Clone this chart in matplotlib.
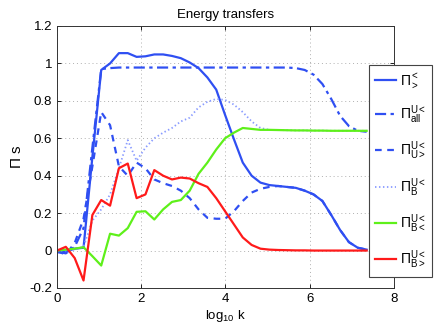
import numpy as np
import matplotlib
matplotlib.use("Agg")
import matplotlib.pyplot as plt

x = [0.21 * i for i in range(36)]

pi_gt = [-0.01, -0.005, 0.01, 0.015, 0.5, 0.965, 1.0, 1.055, 1.055, 1.035, 1.038, 1.048,
         1.048, 1.04, 1.028, 1.005, 0.975, 0.925, 0.86, 0.725, 0.595, 0.47, 0.40, 0.363,
         0.35, 0.345, 0.34, 0.335, 0.32, 0.30, 0.265, 0.19, 0.11, 0.045, 0.015, 0.005]
pi_all = [-0.005, -0.015, 0.02, 0.12, 0.55, 0.97, 0.975, 0.978, 0.978, 0.978, 0.978, 0.978,
          0.978, 0.978, 0.978, 0.978, 0.978, 0.978, 0.978, 0.978, 0.978, 0.978, 0.978, 0.978,
          0.978, 0.978, 0.978, 0.975, 0.965, 0.94, 0.89, 0.81, 0.72, 0.665, 0.64, 0.635]
pi_u = [-0.005, -0.02, 0.04, 0.17, 0.45, 0.74, 0.67, 0.45, 0.40, 0.47, 0.44, 0.38,
        0.36, 0.345, 0.32, 0.28, 0.22, 0.175, 0.17, 0.17, 0.21, 0.265, 0.31, 0.33,
        0.34, 0.345, 0.34, 0.335, 0.32, 0.30, 0.265, 0.19, 0.11, 0.045, 0.015, 0.005]
pi_b = [0.0, 0.0, 0.005, 0.02, 0.16, 0.22, 0.30, 0.44, 0.59, 0.48, 0.55, 0.60,
        0.63, 0.655, 0.69, 0.71, 0.765, 0.795, 0.81, 0.805, 0.78, 0.74, 0.69, 0.655,
        0.645, 0.644, 0.643, 0.642, 0.642, 0.641, 0.641, 0.64, 0.64, 0.64, 0.64, 0.64]
pi_blt = [0.0, 0.005, 0.01, 0.018, -0.03, -0.08, 0.09, 0.08, 0.12, 0.207, 0.21, 0.166,
          0.22, 0.26, 0.27, 0.32, 0.41, 0.47, 0.54, 0.60, 0.63, 0.655, 0.65, 0.645,
          0.645, 0.644, 0.643, 0.642, 0.642, 0.641, 0.641, 0.64, 0.64, 0.64, 0.64, 0.64]
pi_bgt = [0.0, 0.02, -0.04, -0.16, 0.19, 0.27, 0.24, 0.44, 0.465, 0.28, 0.30, 0.43,
          0.40, 0.38, 0.39, 0.385, 0.36, 0.34, 0.28, 0.21, 0.14, 0.07, 0.03, 0.01,
          0.005, 0.003, 0.002, 0.001, 0.001, 0.0, 0.0, 0.0, 0.0, 0.0, 0.0, 0.0]

labels = [r"$\Pi^{<}_{>}$", r"$\Pi^{U<}_{\rm all}$", r"$\Pi^{U<}_{U>}$",
          r"$\Pi^{U<}_{B}$", r"$\Pi^{U<}_{B<}$", r"$\Pi^{U<}_{B>}$"]

plt.rcParams['font.family'] = ['Liberation Sans', 'DejaVu Sans']
plt.rcParams['mathtext.fontset'] = 'custom'
plt.rcParams['mathtext.rm'] = 'Liberation Sans'
plt.rcParams['mathtext.it'] = 'Liberation Sans'

fig = plt.figure(figsize=(4.36, 3.27), dpi=100)
ax = fig.add_axes([0.1307, 0.1193, 0.7730, 0.8012])

blue = '#2f4ff2'
lw = 1.6
ax.plot(x, pi_gt, color=blue, lw=lw, ls='-', label=labels[0])
ax.plot(x, pi_all, color=blue, lw=lw, ls=(0, (5, 2, 1.5, 2)), label=labels[1])
ax.plot(x, pi_u, color=blue, lw=lw, ls=(0, (3, 2.5)), label=labels[2])
ax.plot(x, pi_b, color='#8a9cff', lw=1.3, ls=(0, (0.8, 1.4)), label=labels[3])
ax.plot(x, pi_blt, color='#5ef01a', lw=lw, ls='-', label=labels[4])
ax.plot(x, pi_bgt, color='#ff1a1a', lw=lw, ls='-', label=labels[5])

ax.set_xlim(0, 8)
ax.set_ylim(-0.2, 1.2)
ax.set_xticks([0, 2, 4, 6, 8])
ax.set_yticks([-0.2, 0, 0.2, 0.4, 0.6, 0.8, 1.0, 1.2])
ax.set_yticklabels(['-0.2', '0', '0.2', '0.4', '0.6', '0.8', '1', '1.2'])
ax.tick_params(direction='in', labelsize=9.5, length=3, width=0.6, top=True, right=True)
ax.grid(True, ls=(0, (1, 3)), color='#b0b0b0', lw=0.7)
for s in ax.spines.values():
    s.set_linewidth(0.7)
    s.set_color('#333333')

ax.set_title('Energy transfers', fontsize=9.5, pad=6)
ax.set_xlabel(r'log$_{10}$ k', fontsize=9.5, labelpad=2)
ax.set_ylabel(r'$\Pi$ s', fontsize=11, labelpad=4)

leg = fig.legend(loc='upper left', bbox_to_anchor=(369 / 436, 1 - 65 / 327),
                 bbox_transform=fig.transFigure, borderaxespad=0, fancybox=False,
                 framealpha=1, edgecolor='#444444', fontsize=10, handlelength=1.5,
                 labelspacing=0.98, handletextpad=0.25, borderpad=0.45)
leg.get_frame().set_linewidth(0.8)

fig.savefig('out.png', dpi=100)
